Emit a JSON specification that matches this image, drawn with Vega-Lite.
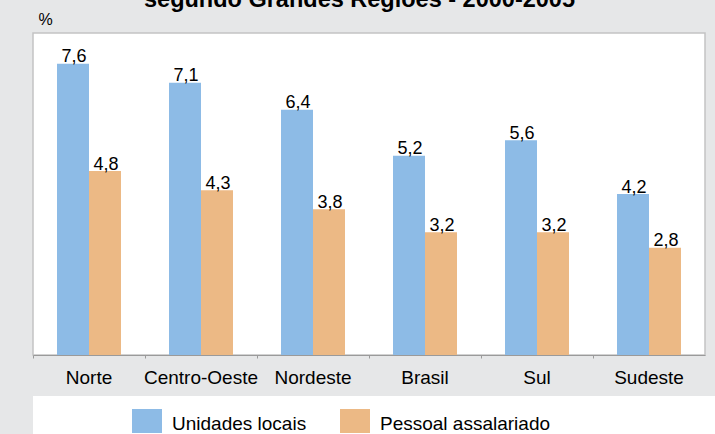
{
  "$schema": "https://vega.github.io/schema/vega-lite/v6.json",
  "background": "#e6e7e8",
  "padding": {"left": 0, "top": -14, "right": 0, "bottom": 0},
  "spacing": 0,
  "config": {
    "locale": {"number": {"decimal": ",", "thousands": ".", "grouping": [3], "currency": ["R$", ""]}},
    "font": "Liberation Sans"
  },
  "datasets": {
    "d": [
      {"regiao": "Norte", "serie": "Unidades locais", "valor": 7.6},
      {"regiao": "Norte", "serie": "Pessoal assalariado", "valor": 4.8},
      {"regiao": "Centro-Oeste", "serie": "Unidades locais", "valor": 7.1},
      {"regiao": "Centro-Oeste", "serie": "Pessoal assalariado", "valor": 4.3},
      {"regiao": "Nordeste", "serie": "Unidades locais", "valor": 6.4},
      {"regiao": "Nordeste", "serie": "Pessoal assalariado", "valor": 3.8},
      {"regiao": "Brasil", "serie": "Unidades locais", "valor": 5.2},
      {"regiao": "Brasil", "serie": "Pessoal assalariado", "valor": 3.2},
      {"regiao": "Sul", "serie": "Unidades locais", "valor": 5.6},
      {"regiao": "Sul", "serie": "Pessoal assalariado", "valor": 3.2},
      {"regiao": "Sudeste", "serie": "Unidades locais", "valor": 4.2},
      {"regiao": "Sudeste", "serie": "Pessoal assalariado", "valor": 2.8}
    ]
  },
  "resolve": {"legend": {"color": "independent"}},
  "vconcat": [
    {
      "width": 672,
      "height": 322,
      "title": {
        "text": "segundo Grandes Regiões - 2000-2005",
        "fontSize": 23.5,
        "fontWeight": "bold",
        "font": "Liberation Sans",
        "color": "black",
        "anchor": "middle",
        "frame": "group",
        "dx": -9.5,
        "offset": -24,
        "baseline": "bottom"
      },
      "view": {"fill": "white", "stroke": "#c3c3c3", "strokeWidth": 1.5},
      "data": {"name": "d"},
      "encoding": {
        "x": {
          "field": "regiao",
          "type": "nominal",
          "sort": ["Norte", "Centro-Oeste", "Nordeste", "Brasil", "Sul", "Sudeste"],
          "scale": {"paddingInner": 0.4286, "paddingOuter": 0.2143},
          "axis": {
            "title": null,
            "labelFontSize": 19,
            "labelFont": "Liberation Sans",
            "labelColor": "black",
            "labelAngle": 0,
            "labelPadding": 10.5,
            "tickSize": 3,
            "tickColor": "#9a9a9a",
            "domainColor": "#9a9a9a",
            "bandPosition": -0.375,
            "grid": false,
            "minExtent": 40,
            "maxExtent": 40
          }
        },
        "xOffset": {"field": "serie", "type": "nominal", "sort": ["Unidades locais", "Pessoal assalariado"]},
        "y": {
          "field": "valor",
          "type": "quantitative",
          "scale": {"domain": [0, 8.4], "nice": false},
          "axis": {
            "title": "%",
            "titleAngle": 0,
            "titleX": 5,
            "titleY": -9,
            "titleAlign": "left",
            "titleBaseline": "alphabetic",
            "titleFontSize": 16,
            "titleFontWeight": "normal",
            "titleFont": "Liberation Sans",
            "titleColor": "black",
            "titlePadding": 0,
            "labels": false,
            "ticks": false,
            "domain": false,
            "grid": false,
            "minExtent": 32,
            "maxExtent": 32
          }
        }
      },
      "layer": [
        {
          "mark": {"type": "bar"},
          "encoding": {
            "color": {
              "field": "serie",
              "type": "nominal",
              "scale": {"domain": ["Unidades locais", "Pessoal assalariado"], "range": ["#8dbbe6", "#ecb985"]},
              "legend": null
            }
          }
        },
        {
          "mark": {"type": "text", "baseline": "alphabetic", "dy": -1.5, "dx": 1, "fontSize": 18, "font": "Liberation Sans", "color": "black"},
          "encoding": {
            "text": {"field": "valor", "type": "quantitative", "format": ".1f"}
          }
        }
      ]
    },
    {
      "width": 683,
      "height": 40,
      "view": {"fill": "white", "stroke": null},
      "data": {"name": "d"},
      "mark": {"type": "point", "filled": true, "size": 0, "opacity": 0},
      "encoding": {
        "color": {
          "field": "serie",
          "type": "nominal",
          "scale": {"domain": ["Unidades locais", "Pessoal assalariado"], "range": ["#8dbbe6", "#ecb985"]},
          "legend": {
            "title": null,
            "orient": "none",
            "legendX": 99,
            "legendY": 13,
            "direction": "horizontal",
            "padding": 0,
            "symbolType": "M-1,-1H1V0.6H-1Z",
            "symbolSize": 900,
            "symbolStrokeWidth": 0,
            "symbolOpacity": 1,
            "labelFontSize": 19,
            "labelFont": "Liberation Sans",
            "labelColor": "black",
            "labelOffset": 10,
            "columnPadding": 33,
            "labelLimit": 300
          }
        }
      }
    }
  ]
}
